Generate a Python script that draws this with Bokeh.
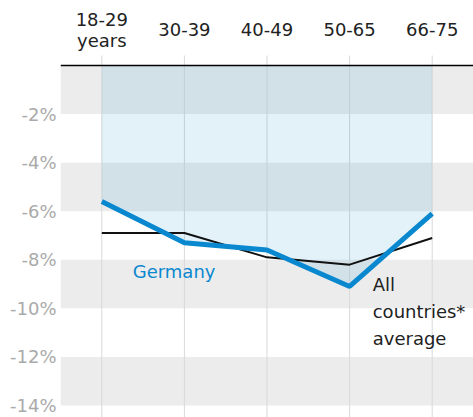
from bokeh.plotting import figure
from bokeh.models import (Range1d, FixedTicker, BoxAnnotation, Span, Label,
                          PrintfTickFormatter, ColumnDataSource)
from bokeh.embed import file_html
from bokeh.resources import INLINE

# ---- data ----
age_groups = ["18-29\nyears", "30-39", "40-49", "50-65", "66-75"]
germany = [-5.6, -7.3, -7.6, -9.1, -6.1]
all_countries_avg = [-6.9, -6.9, -7.9, -8.2, -7.1]
y_ticks = [-2, -4, -6, -8, -10, -12, -14]
band_edges = [(0, -2), (-4, -6), (-8, -10), (-12, -14)]

FONT = "DejaVu Sans"
BLUE = "#0a88cf"
Y_TOP, Y_BOTTOM = 2.676, -14.494   # frame covers whole canvas height
GUIDE_TOP = 0.41                   # vertical guides start just above zero line
LABEL_Y = 1.48                     # row of category labels

idx = list(range(len(age_groups)))
src = ColumnDataSource(dict(x=idx, germany=germany, avg=all_countries_avg,
                            zero=[0] * len(idx),
                            gtop=[GUIDE_TOP] * len(idx),
                            gbot=[Y_BOTTOM] * len(idx)))

p = figure(width=473, height=417, output_backend="svg", toolbar_location=None,
           x_range=Range1d(-0.5, len(idx) - 0.5), y_range=Range1d(Y_BOTTOM, Y_TOP),
           min_border_left=60, min_border_right=0,
           min_border_top=0, min_border_bottom=0)
p.outline_line_color = None
p.background_fill_color = "white"
p.grid.visible = False
p.xaxis.visible = False

# alternating bands
for top, bottom in band_edges:
    p.add_layout(BoxAnnotation(top=top, bottom=bottom, fill_color="#ececec",
                               fill_alpha=1, line_alpha=0, level="underlay"))

# vertical guide lines
p.segment(x0="x", y0="gtop", x1="x", y1="gbot", source=src,
          line_color="#d9d9d9", line_width=1)

# shaded area between zero and Germany
p.varea(x="x", y1="zero", y2="germany", source=src, fill_color="#0088cc",
        fill_alpha=0.11)

# zero line
p.add_layout(Span(location=0, dimension="width", line_color="black",
                  line_width=1.5))

p.line(x="x", y="avg", source=src, line_color="#111111", line_width=2)
p.line(x="x", y="germany", source=src, line_color=BLUE, line_width=5)

# category labels above the plot
for i, lab in zip(idx, age_groups):
    p.add_layout(Label(x=i, y=LABEL_Y, text=lab, text_font=FONT,
                       text_font_size="18px", text_color="#222222",
                       text_align="center", text_baseline="middle",
                       text_line_height=1.0))

ya = p.yaxis[0]
ya.ticker = FixedTicker(ticks=y_ticks)
ya.formatter = PrintfTickFormatter(format="%d%%")
ya.axis_line_color = None
ya.major_tick_line_color = None
ya.minor_tick_line_color = None
ya.major_tick_out = 0
ya.major_label_text_font = FONT
ya.major_label_text_font_size = "18px"
ya.major_label_text_color = "#aaaaaa"
ya.major_label_standoff = 4

p.add_layout(Label(x=0.875, y=-8.48, text="Germany", text_color=BLUE,
                   text_font=FONT, text_font_size="18px", text_align="center",
                   text_baseline="middle"))
p.add_layout(Label(x=3.28, y=-8.59, text="All\ncountries*\naverage",
                   text_color="#222222", text_font=FONT, text_font_size="18px",
                   text_align="left", text_baseline="top", text_line_height=1.28))

open("out.html", "w").write(file_html(p, INLINE))
